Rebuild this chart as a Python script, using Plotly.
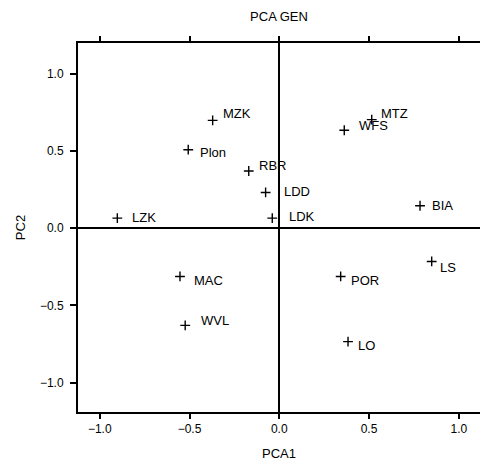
import plotly.graph_objects as go

# Data
sites = ["MZK", "Plon", "RBR", "LDD", "LDK", "LZK", "WFS", "MTZ", "BIA",
         "MAC", "WVL", "POR", "LS", "LO"]
pca1 = [-0.371, -0.507, -0.170, -0.076, -0.039, -0.902, 0.362, 0.515, 0.784,
        -0.553, -0.524, 0.342, 0.849, 0.383]
pca2 = [0.699, 0.509, 0.371, 0.232, 0.066, 0.066, 0.635, 0.704, 0.146,
        -0.312, -0.629, -0.312, -0.215, -0.734]
tick_vals = [-1.0, -0.5, 0.0, 0.5, 1.0]

# Label offsets (pixels) – styling only
label_dx = [8, 10, 8, 16, 15, 13, 13, 7, 10, 12, 14, 8, 6, 8]
label_dy = [7, -3, 5, 1, 2, 1, 5, 6, 0, -4, 5, -4, -6, -4]

FONT = "Liberation Sans, Arial, sans-serif"

fig = go.Figure()
fig.add_trace(go.Scatter(
    x=pca1, y=pca2, mode="markers",
    marker=dict(symbol="cross-thin", size=7, color="black",
                line=dict(color="black", width=1.4)),
    hoverinfo="skip", showlegend=False,
))

for name, x, y, dx, dy in zip(sites, pca1, pca2, label_dx, label_dy):
    fig.add_annotation(x=x, y=y, xref="x", yref="y", text=name, showarrow=False,
                       xanchor="left", yanchor="middle", xshift=dx, yshift=dy,
                       font=dict(family=FONT, size=13, color="black"))

xr = [-1.121, 1.118]
yr = [-1.19, 1.20]

common_tick = dict(tickcolor="black", tickwidth=1.5, showgrid=False)

fig.update_layout(
    width=480, height=461,
    margin=dict(l=78, r=0, t=43, b=47),
    paper_bgcolor="white", plot_bgcolor="white",
    font=dict(family=FONT, size=12, color="black"),
    title=dict(text="PCA GEN", x=0.5, xref="paper", xanchor="center",
               y=1, yref="container", yanchor="top", pad=dict(t=12),
               font=dict(family=FONT, size=13, color="black")),
    xaxis=dict(range=xr, tickvals=tick_vals, tickformat=".1f",
               showline=True, linecolor="black", linewidth=2, mirror="allticks",
               ticks="outside", ticklen=5, zeroline=True, zerolinecolor="black",
               zerolinewidth=2, title=dict(text="PCA1", standoff=15,
                                           font=dict(size=13)),
               tickfont=dict(size=12), **common_tick),
    xaxis2=dict(range=xr, tickvals=tick_vals, overlaying="x", anchor="y",
                side="bottom", ticks="inside", ticklen=5, mirror="ticks",
                showline=False, showticklabels=False, zeroline=False,
                **common_tick),
    yaxis=dict(range=yr, tickvals=tick_vals, tickformat=".1f",
               showline=True, linecolor="black", linewidth=2, mirror=False,
               ticks="outside", ticklen=6, zeroline=True, zerolinecolor="black",
               zerolinewidth=2, ticklabelstandoff=4,
               title=dict(text="PC2", standoff=11, font=dict(size=13)),
               tickfont=dict(size=12), **common_tick),
    yaxis2=dict(range=yr, tickvals=tick_vals, overlaying="y", anchor="x",
                side="left", ticks="inside", ticklen=6, mirror="ticks",
                showline=False, showticklabels=False, zeroline=False,
                **common_tick),
)

fig.write_html("out.html")
